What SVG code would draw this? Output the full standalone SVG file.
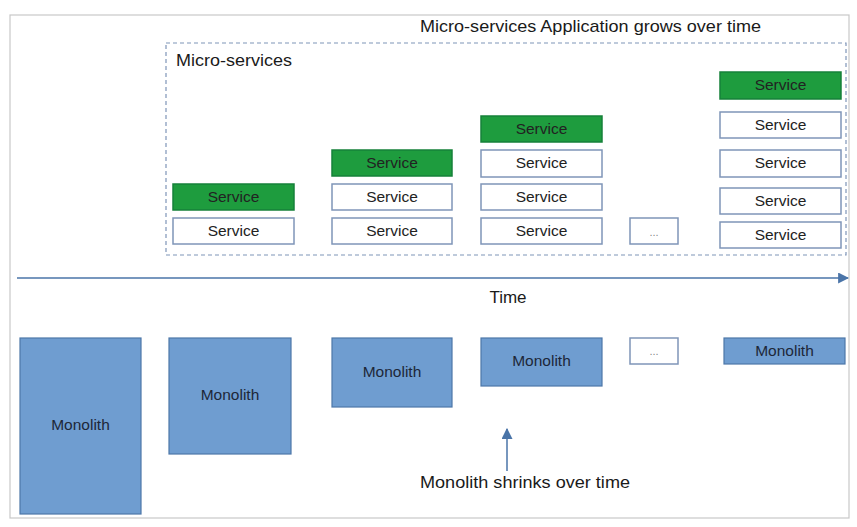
<svg xmlns="http://www.w3.org/2000/svg" width="857" height="527" viewBox="0 0 857 527">
<style>
text{font-family:"Liberation Sans",Arial,sans-serif;fill:#1a1a1a}
.lbl{font-size:17px}
.svc rect{fill:#fff;stroke:#7f95b8;stroke-width:1.5}
.svc.g rect{fill:#1e9c3e;stroke:#16813a}
.svc text{font-size:15.5px;text-anchor:middle;fill:#222}
.mono rect{fill:#6f9dd0;stroke:#4d77a8;stroke-width:1.2}
.mono text{font-size:15.5px;text-anchor:middle;fill:#1d2738}
.dots rect{fill:#fff;stroke:#7f95b8;stroke-width:1.5}
.dots text{font-size:11px;text-anchor:middle;fill:#888}
</style>
<defs>
<marker id="ah2" viewBox="0 0 10 10" refX="9" refY="5" markerWidth="11" markerHeight="11" markerUnits="userSpaceOnUse" orient="auto"><path d="M0,0 L10,5 L0,10 z" fill="#4a74a8"/></marker>
</defs>
<rect x="0" y="0" width="857" height="527" fill="#fff"/>
<rect x="10" y="15" width="839" height="503" fill="none" stroke="#c8c8c8" stroke-width="1.2"/>
<text class="lbl" x="420" y="32" textLength="341" lengthAdjust="spacingAndGlyphs">Micro-services Application grows over time</text>
<g id="microservices">
<rect x="166" y="43" width="680" height="212" fill="none" stroke="#7f95b8" stroke-width="1.2" stroke-dasharray="4,3"/>
<text class="lbl" x="176" y="66" textLength="116" lengthAdjust="spacingAndGlyphs">Micro-services</text>
</g>
<g id="col1">
<g class="svc g"><rect x="173" y="184" width="121" height="26"/><text x="233.5" y="202">Service</text></g>
<g class="svc"><rect x="173" y="218" width="121" height="26"/><text x="233.5" y="236">Service</text></g>
</g>
<g id="col2">
<g class="svc g"><rect x="332" y="150" width="120" height="26"/><text x="392" y="168">Service</text></g>
<g class="svc"><rect x="332" y="184" width="120" height="26"/><text x="392" y="202">Service</text></g>
<g class="svc"><rect x="332" y="218" width="120" height="26"/><text x="392" y="236">Service</text></g>
</g>
<g id="col3">
<g class="svc g"><rect x="481" y="116" width="121" height="26"/><text x="541.5" y="134">Service</text></g>
<g class="svc"><rect x="481" y="150" width="121" height="27"/><text x="541.5" y="168">Service</text></g>
<g class="svc"><rect x="481" y="184" width="121" height="26"/><text x="541.5" y="202">Service</text></g>
<g class="svc"><rect x="481" y="218" width="121" height="26"/><text x="541.5" y="236">Service</text></g>
</g>
<g id="col4" class="dots"><rect x="630" y="218" width="48" height="26"/><text x="654" y="236">...</text></g>
<g id="col5">
<g class="svc g"><rect x="720" y="72" width="121" height="27"/><text x="780.5" y="90">Service</text></g>
<g class="svc"><rect x="720" y="112" width="121" height="26"/><text x="780.5" y="130">Service</text></g>
<g class="svc"><rect x="720" y="150" width="121" height="27"/><text x="780.5" y="168">Service</text></g>
<g class="svc"><rect x="720" y="188" width="121" height="26"/><text x="780.5" y="206">Service</text></g>
<g class="svc"><rect x="720" y="222" width="121" height="26"/><text x="780.5" y="240">Service</text></g>
</g>
<g id="connectors">
<line x1="17" y1="278" x2="848" y2="278" stroke="#4a74a8" stroke-width="1.5" marker-end="url(#ah2)"/>
<line x1="507" y1="471" x2="507" y2="429" stroke="#4a74a8" stroke-width="1.5" marker-end="url(#ah2)"/>
</g>
<text class="lbl" x="508" y="303" text-anchor="middle">Time</text>
<g id="m1" class="mono"><rect x="20" y="338" width="121" height="176"/><text x="80.5" y="430">Monolith</text></g>
<g id="m2" class="mono"><rect x="169" y="338" width="122" height="116"/><text x="230" y="400">Monolith</text></g>
<g id="m3" class="mono"><rect x="332" y="338" width="120" height="69"/><text x="392" y="377">Monolith</text></g>
<g id="m4" class="mono"><rect x="481" y="338" width="121" height="48"/><text x="541.5" y="366">Monolith</text></g>
<g id="mdots" class="dots"><rect x="630" y="338" width="48" height="26"/><text x="654" y="355">...</text></g>
<g id="m5" class="mono"><rect x="724" y="338" width="121" height="26"/><text x="784.5" y="356">Monolith</text></g>
<text class="lbl" x="525" y="488" text-anchor="middle" textLength="210" lengthAdjust="spacingAndGlyphs">Monolith shrinks over time</text>
</svg>
